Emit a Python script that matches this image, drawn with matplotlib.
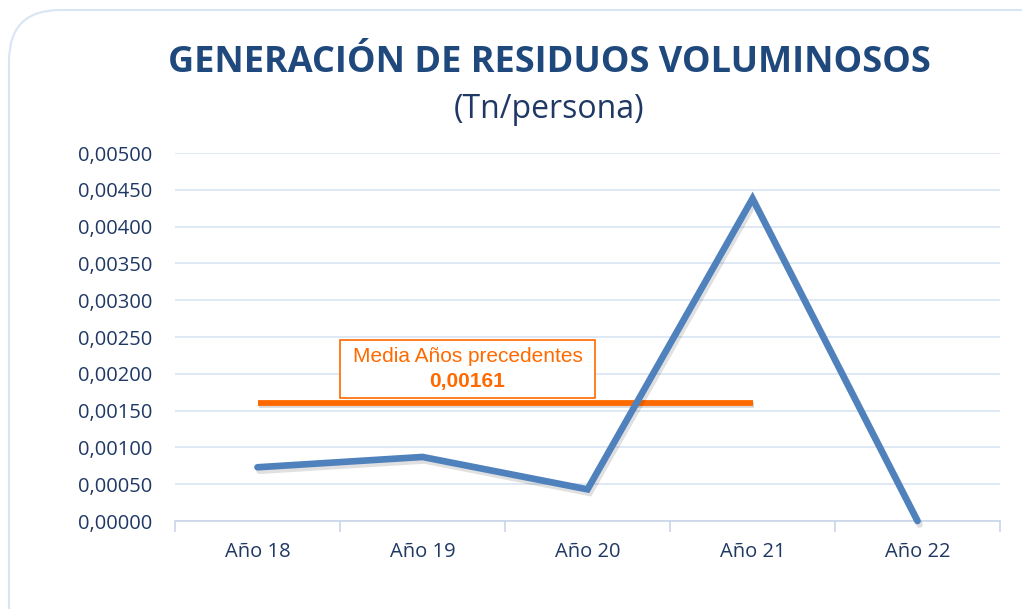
import matplotlib
matplotlib.use("Agg")
import matplotlib.pyplot as plt
from matplotlib.patches import FancyBboxPatch, Rectangle
import matplotlib.patheffects as pe
from matplotlib.ticker import FuncFormatter, FixedLocator

categories = ["Año 18", "Año 19", "Año 20", "Año 21", "Año 22"]
values = [0.00073, 0.00087, 0.00043, 0.00438, 0.0]
media = 0.00161
media_span = ["Año 18", "Año 21"]
title = "GENERACIÓN DE RESIDUOS VOLUMINOSOS"
subtitle = "(Tn/persona)"
media_label = "Media Años precedentes"
yticks = [i * 0.0005 for i in range(11)]

plt.rcParams['font.family'] = ['Open Sans', 'DejaVu Sans']

fig = plt.figure(figsize=(10.22, 6.09), dpi=100)
fig.patch.set_facecolor("white")

border = FancyBboxPatch((9/1022, -0.2), 1.2, (609-10)/609 + 0.2,
                        boxstyle="round,pad=0,rounding_size=0.05",
                        transform=fig.transFigure, fill=False,
                        edgecolor="#D9E4F4", linewidth=1.5, mutation_aspect=1022/609)
fig.patches.append(border)

ax = fig.add_axes([175/1022, 88/609, 825/1022, 368/609])
x = list(range(len(categories)))

ax.set_xlim(-0.5, len(categories) - 0.5)
ax.set_ylim(0, 0.005)
ax.set_yticks(yticks)
ax.yaxis.set_major_formatter(FuncFormatter(lambda v, p: f"{v:.5f}".replace(".", ",")))
ax.grid(axis="y", color="#D9E4F3", linewidth=1.2)
ax.set_axisbelow(True)
for s in ["top", "right", "left"]:
    ax.spines[s].set_visible(False)
ax.spines["bottom"].set_color("#C9D6EA")
ax.spines["bottom"].set_linewidth(1.2)
ax.tick_params(axis="y", length=0, labelsize=14.5, labelcolor="#1F3864", pad=16.5)
ax.set_xticks(x)
ax.set_xticklabels(categories)
ax.tick_params(axis="x", which="major", length=0, labelsize=14.5, labelcolor="#1F3864", pad=15)
ax.xaxis.set_minor_locator(FixedLocator([i - 0.5 for i in range(len(categories) + 1)]))
ax.tick_params(axis="x", which="minor", length=8, color="#C9D6EA", width=1.2)

i0 = categories.index(media_span[0])
i1 = categories.index(media_span[1])
ax.plot([i0, i1], [media, media], color="#FF6A00", linewidth=4.2, solid_capstyle="butt",
        path_effects=[pe.SimpleLineShadow(offset=(1, -2), alpha=0.15), pe.Normal()], zorder=3)

ax.plot(x, values, color="#4F81BD", linewidth=4.8, solid_capstyle="round",
        solid_joinstyle="miter", clip_on=False,
        path_effects=[pe.SimpleLineShadow(offset=(1.5, -2.5), alpha=0.12), pe.Normal()], zorder=4)

ax.add_patch(Rectangle((0.5, 0.00167), 1.545, 0.00079, facecolor="white",
                       edgecolor="#FF6A00", linewidth=1.2, zorder=5))
tx = 1.273
ax.text(tx, 0.00224, media_label, ha="center", va="center",
        fontsize=15, color="#FF6A00", family=["Liberation Sans", "DejaVu Sans"], zorder=6)
ax.text(tx, 0.00189, f"{media:.5f}".replace(".", ","), ha="center", va="center",
        fontsize=15, color="#FF6A00", fontweight="bold",
        family=["Liberation Sans", "DejaVu Sans"], zorder=6)

fig.text(549/1022, 1 - 63/609, title, ha="center", va="center",
         fontsize=26, fontweight="bold", color="#1F497D")
fig.text(549/1022, 1 - 110/609, subtitle, ha="center", va="center",
         fontsize=23, color="#1F3864")

fig.savefig("out.png", dpi=100)
